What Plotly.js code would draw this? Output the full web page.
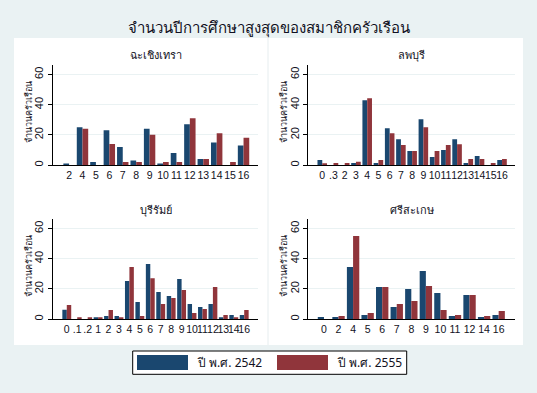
<!DOCTYPE html>
<html>
<head>
<meta charset="utf-8">
<script src="https://cdn.plot.ly/plotly-3.0.1.min.js"></script>
<style>html,body{margin:0;padding:0;background:#eaf2f3;}#chart{width:537px;height:393px;}</style>
</head>
<body>
<div id="chart"></div>
<script>
// ---- data ----
const chartTitle = 'จำนวนปีการศึกษาสูงสุดของสมาชิกครัวเรือน';
const yTitle = 'จำนวนครัวเรือน';
const seriesNames = ['ปี พ.ศ. 2542', 'ปี พ.ศ. 2555'];
const seriesColors = ['#1a476f', '#90353b'];
const panelTitles = ['ฉะเชิงเทรา', 'ลพบุรี', 'บุรีรัมย์', 'ศรีสะเกษ'];

const catsChachoengsao = ['2','4','5','6','7','8','9','10','11','12','13','14','15','16'];
const y2542Chachoengsao = [1,25,2,23,12,3,24,1,8,27,4,15,0,13];
const y2555Chachoengsao = [0,24,0,14,2,2,20,2,2,31,4,21,2,18];

const catsLopburi = ['0','.3','2','3','4','5','6','7','8','9','10','11','12','13','14','15','16'];
const y2542Lopburi = [3.3,0,0,1.3,42.9,1.3,24.4,17.1,9.2,30.3,5.3,9.9,17.1,1.3,5.9,0,3.3];
const y2555Lopburi = [1.1,1.3,1.3,2.2,44.2,3.3,21.1,13.2,9.2,25,9.2,13.2,13.8,4,4,1.3,4];

const catsBuriram = ['0','.1','.2','1','2','3','4','5','6','7','8','9','10','11','12','13','14','16'];
const y2542Buriram = [6.2,0,0,1.1,2,2,25.2,11.3,36.4,17.9,15.2,26.5,9.9,8,9.9,1.1,2.6,2.6];
const y2555Buriram = [9.3,1.1,1.1,1.1,6,1.1,34.4,2,27,9.9,13.9,19.2,4,6.6,21.2,2.6,1.1,6];

const catsSisaket = ['0','2','4','5','6','7','8','9','10','11','12','14','16'];
const y2542Sisaket = [1.3,1.3,34.4,2.6,21.2,8,19.9,31.8,17.2,2,15.9,1.3,2.6];
const y2555Sisaket = [0,2,55,4,21.2,9.9,11.9,21.9,6,2.6,15.9,2,5.3];

const yTicks = [0, 20, 40, 60];

// ---- build ----
const W = 537, H = 393;
const FONT = 'Noto Sans, DejaVu Sans, Liberation Sans, sans-serif';
const NARROW = 'Liberation Sans Narrow, Liberation Sans, Arial, sans-serif';
const TXT = '#111122';
const px = v => v / W;
const py = v => 1 - v / H;

const panels = [
  {cats: catsChachoengsao, a: y2542Chachoengsao, b: y2555Chachoengsao, xd: [52.7, 258.3], yd: [65, 165], xr: [-1.22, catsChachoengsao.length - 1 + 1.1]},
  {cats: catsLopburi, a: y2542Lopburi, b: y2555Lopburi, xd: [308.1, 515.4], yd: [65, 165], xr: [-1.26, catsLopburi.length - 1 + 1.19]},
  {cats: catsBuriram, a: y2542Buriram, b: y2555Buriram, xd: [52.7, 258.3], yd: [219, 319], xr: [-1.35, catsBuriram.length - 1 + 1.35]},
  {cats: catsSisaket, a: y2542Sisaket, b: y2555Sisaket, xd: [308.1, 515.4], yd: [219, 319], xr: [-1.09, catsSisaket.length - 1 + 1.15]}
];

const traces = [];
const layout = {
  width: W, height: H,
  margin: {l: 0, r: 0, t: 0, b: 0},
  paper_bgcolor: '#eaf2f3',
  plot_bgcolor: '#ffffff',
  showlegend: false,
  barmode: 'group',
  bargap: 0.15,
  bargroupgap: 0,
  font: {family: FONT, color: TXT, size: 11},
  shapes: [],
  annotations: []
};

layout.shapes.push({type: 'rect', xref: 'paper', yref: 'paper', x0: px(14), x1: px(523), y0: py(345), y1: py(38), fillcolor: '#ffffff', line: {width: 0}, layer: 'below'});
layout.shapes.push({type: 'line', xref: 'paper', yref: 'paper', x0: px(268), x1: px(268), y0: py(345), y1: py(38), line: {color: '#e6edef', width: 1}, layer: 'below'});

panels.forEach((p, i) => {
  const n = i === 0 ? '' : String(i + 1);
  const xa = 'x' + n, ya = 'y' + n;
  [p.a, p.b].forEach((vals, s) => {
    traces.push({
      type: 'bar', x: p.cats, y: vals, name: seriesNames[s],
      xaxis: xa, yaxis: ya,
      marker: {color: seriesColors[s], line: {width: 0}},
      hoverinfo: 'x+y+name'
    });
  });
  layout['xaxis' + n] = {
    domain: [px(p.xd[0]), px(p.xd[1])], anchor: ya, type: 'category',
    range: p.xr, showline: true, linecolor: '#000', linewidth: 1,
    tickmode: 'array', tickvals: p.cats, ticktext: p.cats,
    ticks: '', showgrid: false, zeroline: false, fixedrange: true,
    tickfont: {size: 10.5, color: TXT, family: NARROW}, tickangle: 0
  };
  layout['yaxis' + n] = {
    domain: [py(p.yd[1]), py(p.yd[0])], anchor: xa,
    range: [0, 66.3], tickvals: yTicks, ticktext: yTicks.map(String),
    showline: true, linecolor: '#000', linewidth: 1,
    ticks: 'outside', ticklen: 4, tickcolor: '#000', tickwidth: 1,
    showgrid: true, gridcolor: '#eaf2f3', gridwidth: 1, zeroline: false,
    tickangle: -90, tickfont: {size: 11, color: TXT, family: NARROW},
    fixedrange: true
  };
  // y-axis title
  layout.annotations.push({
    text: yTitle, xref: 'paper', yref: 'paper',
    x: px(p.xd[0] - 24.7), y: py((p.yd[0] + p.yd[1]) / 2 - 3),
    xanchor: 'center', yanchor: 'middle', textangle: -90, showarrow: false,
    font: {size: 9, color: TXT, family: FONT}
  });
  // panel title
  layout.annotations.push({
    text: panelTitles[i], xref: 'paper', yref: 'paper',
    x: (px(p.xd[0]) + px(p.xd[1])) / 2, y: py(p.yd[0] - 10),
    xanchor: 'center', yanchor: 'middle', showarrow: false,
    font: {size: 11, color: TXT, family: FONT}
  });
});

// main title
layout.title = {text: chartTitle, x: 0.5, xanchor: 'center', y: py(28), yanchor: 'middle', font: {size: 15, color: TXT, family: FONT}};

// legend (drawn box)
layout.shapes.push({type: 'rect', xref: 'paper', yref: 'paper', x0: px(132.7), x1: px(406.7), y0: py(374.3), y1: py(351), fillcolor: '#ffffff', line: {color: '#000', width: 1}});
const swX = [137, 277];
seriesNames.forEach((nm, s) => {
  layout.shapes.push({type: 'rect', xref: 'paper', yref: 'paper', x0: px(swX[s]), x1: px(swX[s] + 51), y0: py(370), y1: py(355), fillcolor: seriesColors[s], line: {width: 0}});
  layout.annotations.push({text: nm, xref: 'paper', yref: 'paper', x: px(swX[s] + 58), y: py(362.5), xanchor: 'left', yanchor: 'middle', showarrow: false, font: {size: 12, color: TXT, family: FONT}});
});

Plotly.newPlot('chart', traces, layout, {displayModeBar: false, staticPlot: true});
</script>
</body>
</html>
